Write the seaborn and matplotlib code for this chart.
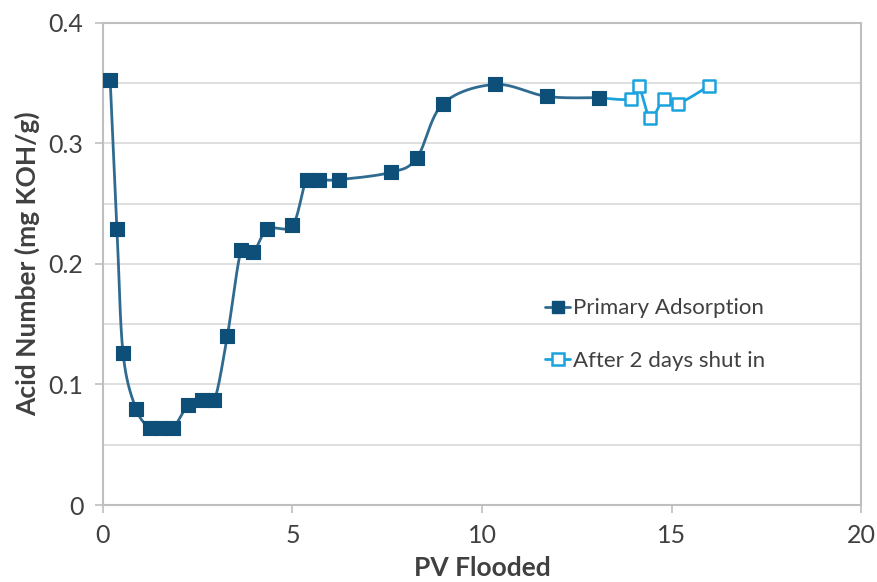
import numpy as np
import pandas as pd
import matplotlib
matplotlib.use("Agg")
import matplotlib.pyplot as plt
import seaborn as sns
from matplotlib.lines import Line2D

# Acid number of the effluent versus pore volumes flooded
primary_pv = [0.19, 0.37, 0.53, 0.87, 1.24, 1.53, 1.85, 2.25, 2.62, 2.94, 3.28,
              3.65, 3.97, 4.34, 5.00, 5.37, 5.71, 6.22, 7.59, 8.28, 8.97,
              10.34, 11.72, 13.08]
primary_an = [0.353, 0.229, 0.126, 0.080, 0.064, 0.064, 0.064, 0.083, 0.087, 0.087,
              0.140, 0.212, 0.210, 0.229, 0.232, 0.270, 0.270, 0.270, 0.276, 0.288,
              0.333, 0.349, 0.339, 0.338]

shutin_pv = [13.08, 13.92, 14.13, 14.44, 14.80, 15.16, 16.00]
shutin_an = [0.338, 0.337, 0.348, 0.321, 0.337, 0.333, 0.348]

x_ticks = [0, 5, 10, 15, 20]
y_ticks = [0, 0.1, 0.2, 0.3, 0.4]

DARK = "#0D4F79"
DARK_LINE = "#2F6B90"
LIGHT = "#1BA3DD"
TEXT = "#404040"
FRAME = "#BFBFBF"
GRID = "#D9D9D9"


def smooth(xs, ys, n=24):
    """Catmull-Rom curve through the given points (spreadsheet-style smoothed line)."""
    p = np.column_stack([xs, ys]).astype(float)
    p = np.vstack([p[0], p, p[-1]])
    out = []
    t = np.linspace(0, 1, n, endpoint=False)[:, None]
    for i in range(1, len(p) - 2):
        p0, p1, p2, p3 = p[i - 1], p[i], p[i + 1], p[i + 2]
        seg = 0.5 * ((2 * p1) + (-p0 + p2) * t + (2 * p0 - 5 * p1 + 4 * p2 - p3) * t ** 2
                     + (-p0 + 3 * p1 - 3 * p2 + p3) * t ** 3)
        out.append(seg)
    out.append(p[-2][None, :])
    c = np.vstack(out)
    return c[:, 0], c[:, 1]


sns.set_theme(style="white")
plt.rcParams["font.family"] = ["Lato", "DejaVu Sans"]

fig = plt.figure(figsize=(8.77, 5.82), dpi=100)
ax = fig.add_axes([0.1174, 0.1323, 0.8644, 0.8282])

df_p = pd.DataFrame({"pv": primary_pv, "an": primary_an})
df_s = pd.DataFrame({"pv": shutin_pv, "an": shutin_an})

# smoothed connecting lines
sx, sy = smooth(primary_pv, primary_an)
ax.plot(sx, sy, color=DARK_LINE, lw=2.0, zorder=3)
sx2, sy2 = smooth(shutin_pv, shutin_an)
ax.plot(sx2, sy2, color=LIGHT, lw=2.0, zorder=4)

# markers: shut-in series first, primary on top where they coincide
ax.scatter(df_s["pv"], df_s["an"], marker="s", s=80, facecolor="white",
           edgecolor=LIGHT, linewidth=1.8, zorder=5)
sns.scatterplot(data=df_p, x="pv", y="an", marker="s", s=95, color=DARK,
                edgecolor=DARK, linewidth=0.8, ax=ax, zorder=6, legend=False)

ax.set_xlim(0, 20)
ax.set_ylim(0, 0.4)
ax.set_xticks(x_ticks)
ax.set_yticks(y_ticks)
ax.set_xticklabels([str(v) for v in x_ticks])
ax.set_yticklabels(["0" if v == 0 else f"{v:.1f}" for v in y_ticks])
ax.set_xlabel("")
ax.set_ylabel("")

for yv in np.arange(0.05, 0.4, 0.05):
    ax.axhline(yv, color=GRID, lw=1.2, zorder=1)

for sp in ax.spines.values():
    sp.set_visible(True)
    sp.set_color(FRAME)
    sp.set_linewidth(1.5)

ax.tick_params(axis="both", which="major", direction="out", length=6, width=1.2,
               color=FRAME, labelsize=18, labelcolor=TEXT, pad=8,
               bottom=True, left=True)

ax.set_xlabel("PV Flooded", fontsize=19, fontweight="bold", color=TEXT, labelpad=6)
ax.set_ylabel("Acid Number (mg KOH/g)", fontsize=19, fontweight="bold", color=TEXT, labelpad=6)

handles = [
    Line2D([], [], color=DARK_LINE, lw=2, marker="s", markersize=9,
           markerfacecolor=DARK, markeredgecolor=DARK),
    Line2D([], [], color=LIGHT, lw=2, marker="s", markersize=8,
           markerfacecolor="white", markeredgecolor=LIGHT, markeredgewidth=1.8),
]
leg = ax.legend(handles, ["Primary Adsorption", "After 2 days shut in"],
                loc="upper left", bbox_to_anchor=(0.572, 0.447), frameon=False,
                fontsize=16, labelcolor=TEXT, handlelength=1.1, handletextpad=0.15,
                labelspacing=1.45, borderaxespad=0)

fig.savefig("out.png", dpi=100, facecolor="white")
